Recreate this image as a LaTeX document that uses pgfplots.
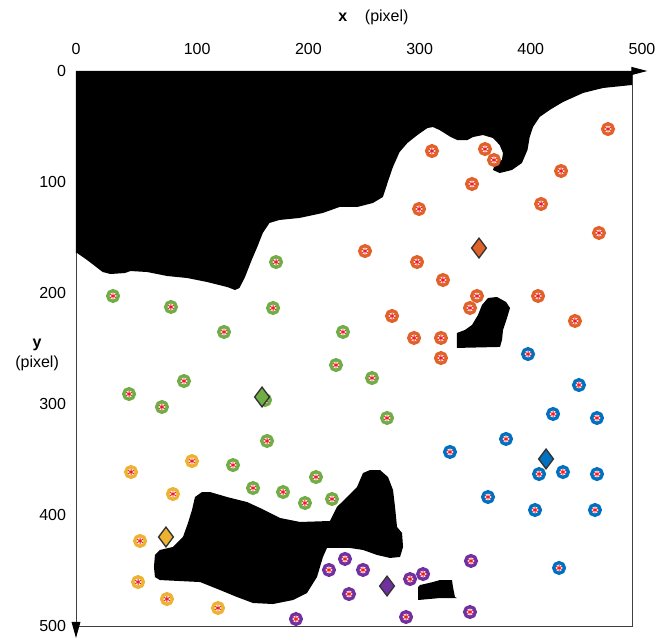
\documentclass[border=0pt]{standalone}
\usepackage{pgfplots}
\pgfplotsset{compat=1.18}
\usepackage{pgfplotstable}
\usetikzlibrary{arrows.meta}
\usepackage{fontspec}
\setmainfont{Liberation Sans}

\definecolor{cOrange}{RGB}{224,98,40}
\definecolor{cGreen}{RGB}{112,173,71}
\definecolor{cBlue}{RGB}{0,112,192}
\definecolor{cYellow}{RGB}{238,178,50}
\definecolor{cPurple}{RGB}{112,48,160}
\definecolor{cStar}{RGB}{240,30,40}

\pgfplotstableread{
x y
478.4 52.3
320.1 72.1
367.8 70.3
375.9 80.2
436.2 90.1
356.1 101.8
308.5 124.3
418.2 119.8
470.3 145.9
259.9 162.2
306.7 172.1
330.0 188.3
360.6 202.7
415.5 202.7
354.3 213.5
284.2 220.7
448.7 225.2
304.0 240.5
328.2 240.5
328.2 258.6
}\orangedata

\pgfplotstableread{
x y
179.9 172.1
33.3 202.7
85.4 212.6
177.2 213.5
133.1 235.1
240.1 235.1
233.8 264.9
97.1 279.3
47.7 291.0
77.3 302.7
170.0 296.4
266.2 276.6
171.8 333.3
279.7 312.6
141.2 355.0
215.8 365.8
159.2 375.7
186.2 379.3
205.9 389.2
230.2 385.6
}\greendata

\pgfplotstableread{
x y
49.5 361.3
104.3 351.4
87.2 381.1
57.6 423.4
55.8 460.4
81.8 475.7
127.7 483.8
}\yellowdata

\pgfplotstableread{
x y
406.5 255.0
452.3 282.9
429.0 309.0
468.5 312.6
386.7 331.5
336.3 343.2
416.4 363.1
437.9 361.3
468.5 363.1
370.5 383.8
412.8 395.5
466.7 395.5
434.4 447.7
}\bluedata

\pgfplotstableread{
x y
197.8 493.7
227.5 449.5
241.9 439.6
245.5 471.2
258.1 449.5
300.4 457.7
312.1 453.2
355.2 441.4
296.8 491.9
354.3 487.4
}\purpledata

\begin{document}
\begin{tikzpicture}
\begin{axis}[
  scale only axis,
  width=417pt, height=416.25pt,
  xmin=0, xmax=500, ymin=0, ymax=500,
  y dir=reverse,
  axis line style={black!75, line width=0.6pt},
  major tick length=0pt,
  xtick={0,100,200,300,400,500},
  xticklabels={0,\hspace*{15pt}100,\hspace*{15pt}200,\hspace*{15pt}300,\hspace*{15pt}400,\hspace*{15pt}500},
  ytick={0,100,200,300,400,500},
  xticklabel pos=right,
  tick label style={font=\fontsize{12}{14}\selectfont},
  xticklabel style={yshift=9pt},
  yticklabel style={xshift=-4pt},
  /pgf/number format/assume math mode=true,
  xlabel={\textbf{x}\hspace{1.1em}(pixel)},
  xlabel style={at={(axis description cs:0.535,1.097)}, anchor=center, font=\fontsize{12}{14}\selectfont},
  ylabel={\textbf{y}\\(pixel)},
  ylabel style={at={(axis description cs:-0.070,0.488)}, anchor=center, rotate=-90, align=center, font=\fontsize{12}{15}\selectfont},
  clip=false,
]
% obstacles
\addplot[fill=black, draw=none] coordinates {
(0,0) (500,0) (500,12.6) (474,15.3) (456,19.8) (438,27.9) (426,35.1) (417,41.4) (411,50.5) (408,59.5) (406,71.2) (401,82.9) (392,89.2) (381,91.9) (375,89.2) (377,82.9) (383,80.2) (384,73.9) (381,66.7) (375,60.4) (366,57.7) (357,59.5) (352,62.2) (343,62.2) (337,59.5) (327,53.2) (321,50.5) (316,51.4) (307,57.7) (298,64.9) (291,73.0) (285,86.5) (281,98.2) (276,113.5) (267,118.9) (253,122.5) (237,122.5) (222,127.9) (201,132.4) (183,134.2) (174,136.9) (168,145.9) (163,158.6) (158,170.3) (152,185.6) (147,195.5) (143,197.3) (136,194.6) (118,190.1) (100,186.5) (82,184.7) (64,181.1) (49,180.2) (44,182) (31,182.9) (24,181.1) (10,170.3) (1,164) (0,164)
} -- cycle;
\addplot[fill=black, draw=none] coordinates {
(342.6,236) (349.8,233.3) (356.1,228.8) (361.5,219.8) (365.1,210.8) (370.5,204.5) (378.6,203.6) (386.7,208.1) (390.3,213.5) (387.6,222.5) (384,233.3) (383.1,242.3) (381.3,248.6) (342.6,249.5)
} -- cycle;
\addplot[fill=black, draw=none] coordinates {
(113.3,379.3) (120.5,379.3) (135.8,383.8) (153.8,388.3) (165.5,393.7) (183.5,402.7) (201.4,406.3) (228.4,405.4) (234.7,392.8) (243.7,383.8) (252.7,374.8) (258.1,362.2) (264.4,359.5) (273.4,359.5) (280.6,365.8) (285.1,377.5) (286.9,392.8) (288.7,410.8) (293.2,416.2) (294.1,428.8) (291.4,437.8) (282.4,438.7) (270.7,436) (258.1,431.5) (246.4,429.7) (225.7,429.7) (222.1,437.8) (216.7,455.9) (207.7,470.3) (195.1,476.6) (177.2,480.2) (159.2,479.3) (144.8,473.9) (129.5,467.6) (111.5,460.4) (75.5,458.6) (71.0,455.9) (70.1,446.8) (71.0,436) (75.5,431.5) (87.2,428.8) (96.2,419.8) (100.7,407.2) (104.3,395.5) (107.0,383.8)
} -- cycle;
\addplot[fill=black, draw=none] coordinates {
(307.6,464.9) (309.4,463.1) (321,460.4) (327.3,458.6) (338.1,458.6) (339,464.9) (340.8,473.9) (342.6,474.8) (327.3,474.8) (307.6,476.6)
} -- cycle;
% clusters
\pgfplotsset{ring/.style={only marks, mark=*, mark size=4pt, mark options={fill=white, draw=#1, line width=2.5pt}},
  star/.style={only marks, mark=asterisk, mark size=2.4pt, mark options={draw=cStar, line width=0.7pt}},
  dia/.style={only marks, mark=diamond*, mark size=7.4pt, mark options={fill=#1, draw=black!80, line width=1pt}}}
\addplot[ring=cOrange] table {\orangedata};
\addplot[star] table {\orangedata};
\addplot[ring=cGreen] table {\greendata};
\addplot[star] table {\greendata};
\addplot[ring=cYellow] table {\yellowdata};
\addplot[star] table {\yellowdata};
\addplot[ring=cBlue] table {\bluedata};
\addplot[star] table {\bluedata};
\addplot[ring=cPurple] table {\purpledata};
\addplot[star] table {\purpledata};
% centroids
\addplot[dia=cOrange] coordinates {(362.4,159.5)};
\addplot[dia=cGreen] coordinates {(167.3,293.7)};
\addplot[dia=cYellow] coordinates {(80.9,419.8)};
\addplot[dia=cBlue] coordinates {(422.7,349.5)};
\addplot[dia=cPurple] coordinates {(279.7,464.0)};
\end{axis}
\draw[line width=0.8pt, -{Triangle[length=12pt,width=6pt]}] (current axis.north east) -- ++(11.5pt,0);
\draw[line width=0.8pt, -{Triangle[length=12pt,width=6.5pt]}] (current axis.south west) -- ++(0,-9pt);
\pgfresetboundingbox
\path ([shift={(-57pt,-9.75pt)}]current axis.south west) rectangle ([shift={(18pt,53.25pt)}]current axis.north east);
\end{tikzpicture}
\end{document}
